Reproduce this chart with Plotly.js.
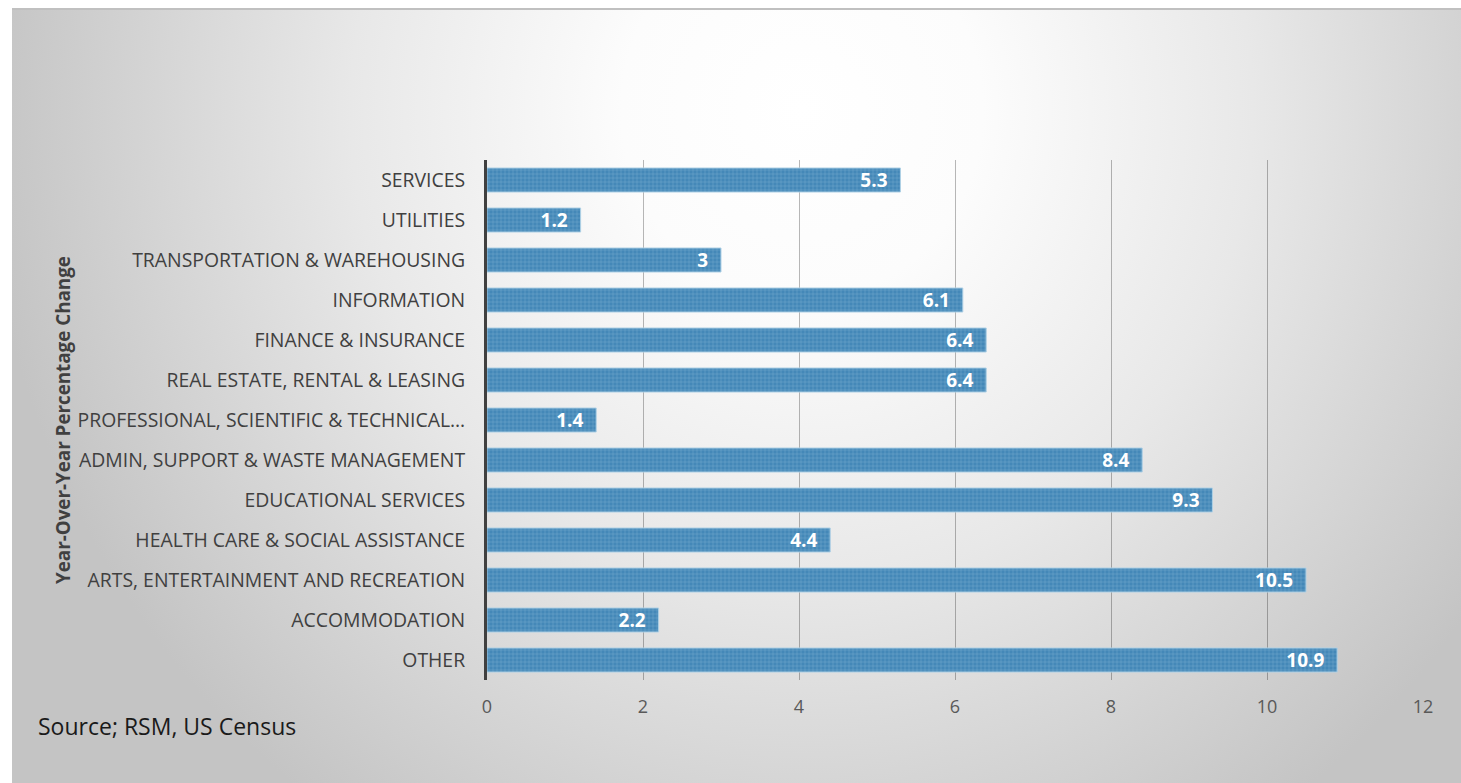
<!DOCTYPE html>
<html>
<head>
<meta charset="utf-8">
<script src="https://cdn.plot.ly/plotly-3.0.1.min.js"></script>
<style>
  html, body { margin:0; padding:0; background:#ffffff; }
  #bg { position:absolute; left:12px; top:8px; width:1449px; height:775px;
        border-top:2px solid #c0c0c0; box-sizing:border-box;
        background: radial-gradient(ellipse 820px 860px at 790px 100px, #ffffff 0%, #fcfcfc 22%, #e8e8e8 55%, #c4c4c4 100%); }
  #chart { position:absolute; left:0; top:0; width:1461px; height:783px; }
</style>
</head>
<body>
<div id="bg"></div>
<div id="chart"></div>
<script>
const categories = [
  "SERVICES",
  "UTILITIES",
  "TRANSPORTATION & WAREHOUSING",
  "INFORMATION",
  "FINANCE & INSURANCE",
  "REAL ESTATE, RENTAL & LEASING",
  "PROFESSIONAL, SCIENTIFIC & TECHNICAL…",
  "ADMIN, SUPPORT & WASTE MANAGEMENT",
  "EDUCATIONAL SERVICES",
  "HEALTH CARE & SOCIAL ASSISTANCE",
  "ARTS, ENTERTAINMENT AND RECREATION",
  "ACCOMMODATION",
  "OTHER"
];
const values = [5.3, 1.2, 3, 6.1, 6.4, 6.4, 1.4, 8.4, 9.3, 4.4, 10.5, 2.2, 10.9];
const xTicks = [0, 2, 4, 6, 8, 10, 12];
const yTitle = "Year-Over-Year Percentage Change";
const sourceText = "Source; RSM, US Census";

const trace = {
  type: "bar",
  orientation: "h",
  y: categories,
  x: values,
  text: values.map(v => String(v) + "\u00a0\u00a0"),
  textposition: "inside",
  insidetextanchor: "end",
  textangle: 0,
  insidetextfont: { family: "Open Sans, sans-serif", size: 19, color: "#ffffff", weight: "bold" },
  marker: {
    color: "#4488b8",
    line: { color: "#aed0e5", width: 1 },
    pattern: { shape: "+", fgcolor: "#a3cbe3", size: 4, solidity: 0.22, fillmode: "overlay" }
  },
  hoverinfo: "x+y"
};

const layout = {
  width: 1461, height: 783,
  paper_bgcolor: "rgba(0,0,0,0)",
  plot_bgcolor: "rgba(0,0,0,0)",
  margin: { l: 487, r: 38, t: 160, b: 103 },
  bargap: 0.4,
  showlegend: false,
  uniformtext: { minsize: 19, mode: "show" },
  font: { family: "Open Sans, sans-serif", color: "#404040" },
  xaxis: {
    range: [0, 12],
    tickvals: xTicks,
    showgrid: true,
    gridcolor: "rgba(0,0,0,0.28)",
    gridwidth: 1,
    zeroline: false,
    showline: false,
    ticks: "",
    ticklabelstandoff: 14,
    tickfont: { size: 18, color: "#595959" },
    fixedrange: true
  },
  yaxis: {
    type: "category",
    autorange: "reversed",
    showgrid: false,
    zeroline: false,
    showline: true,
    linecolor: "#404040",
    linewidth: 3,
    ticks: "",
    ticklabelstandoff: 15,
    tickfont: { size: 19.4, color: "#404040" },
    automargin: false,
    fixedrange: true
  },
  annotations: [
    {
      text: yTitle,
      xref: "paper", yref: "paper",
      x: (63 - 487) / 936, y: 0.5,
      xanchor: "center", yanchor: "middle",
      textangle: -90, showarrow: false,
      font: { size: 18.8, color: "#404040", weight: "bold" }
    },
    {
      text: sourceText,
      xref: "paper", yref: "paper",
      x: (36 - 487) / 936, y: -(726 - 680) / 520,
      xanchor: "left", yanchor: "middle",
      showarrow: false,
      font: { size: 23, color: "#1a1a1a" }
    }
  ]
};

Plotly.newPlot("chart", [trace], layout, { displayModeBar: false, staticPlot: true });
</script>
</body>
</html>
